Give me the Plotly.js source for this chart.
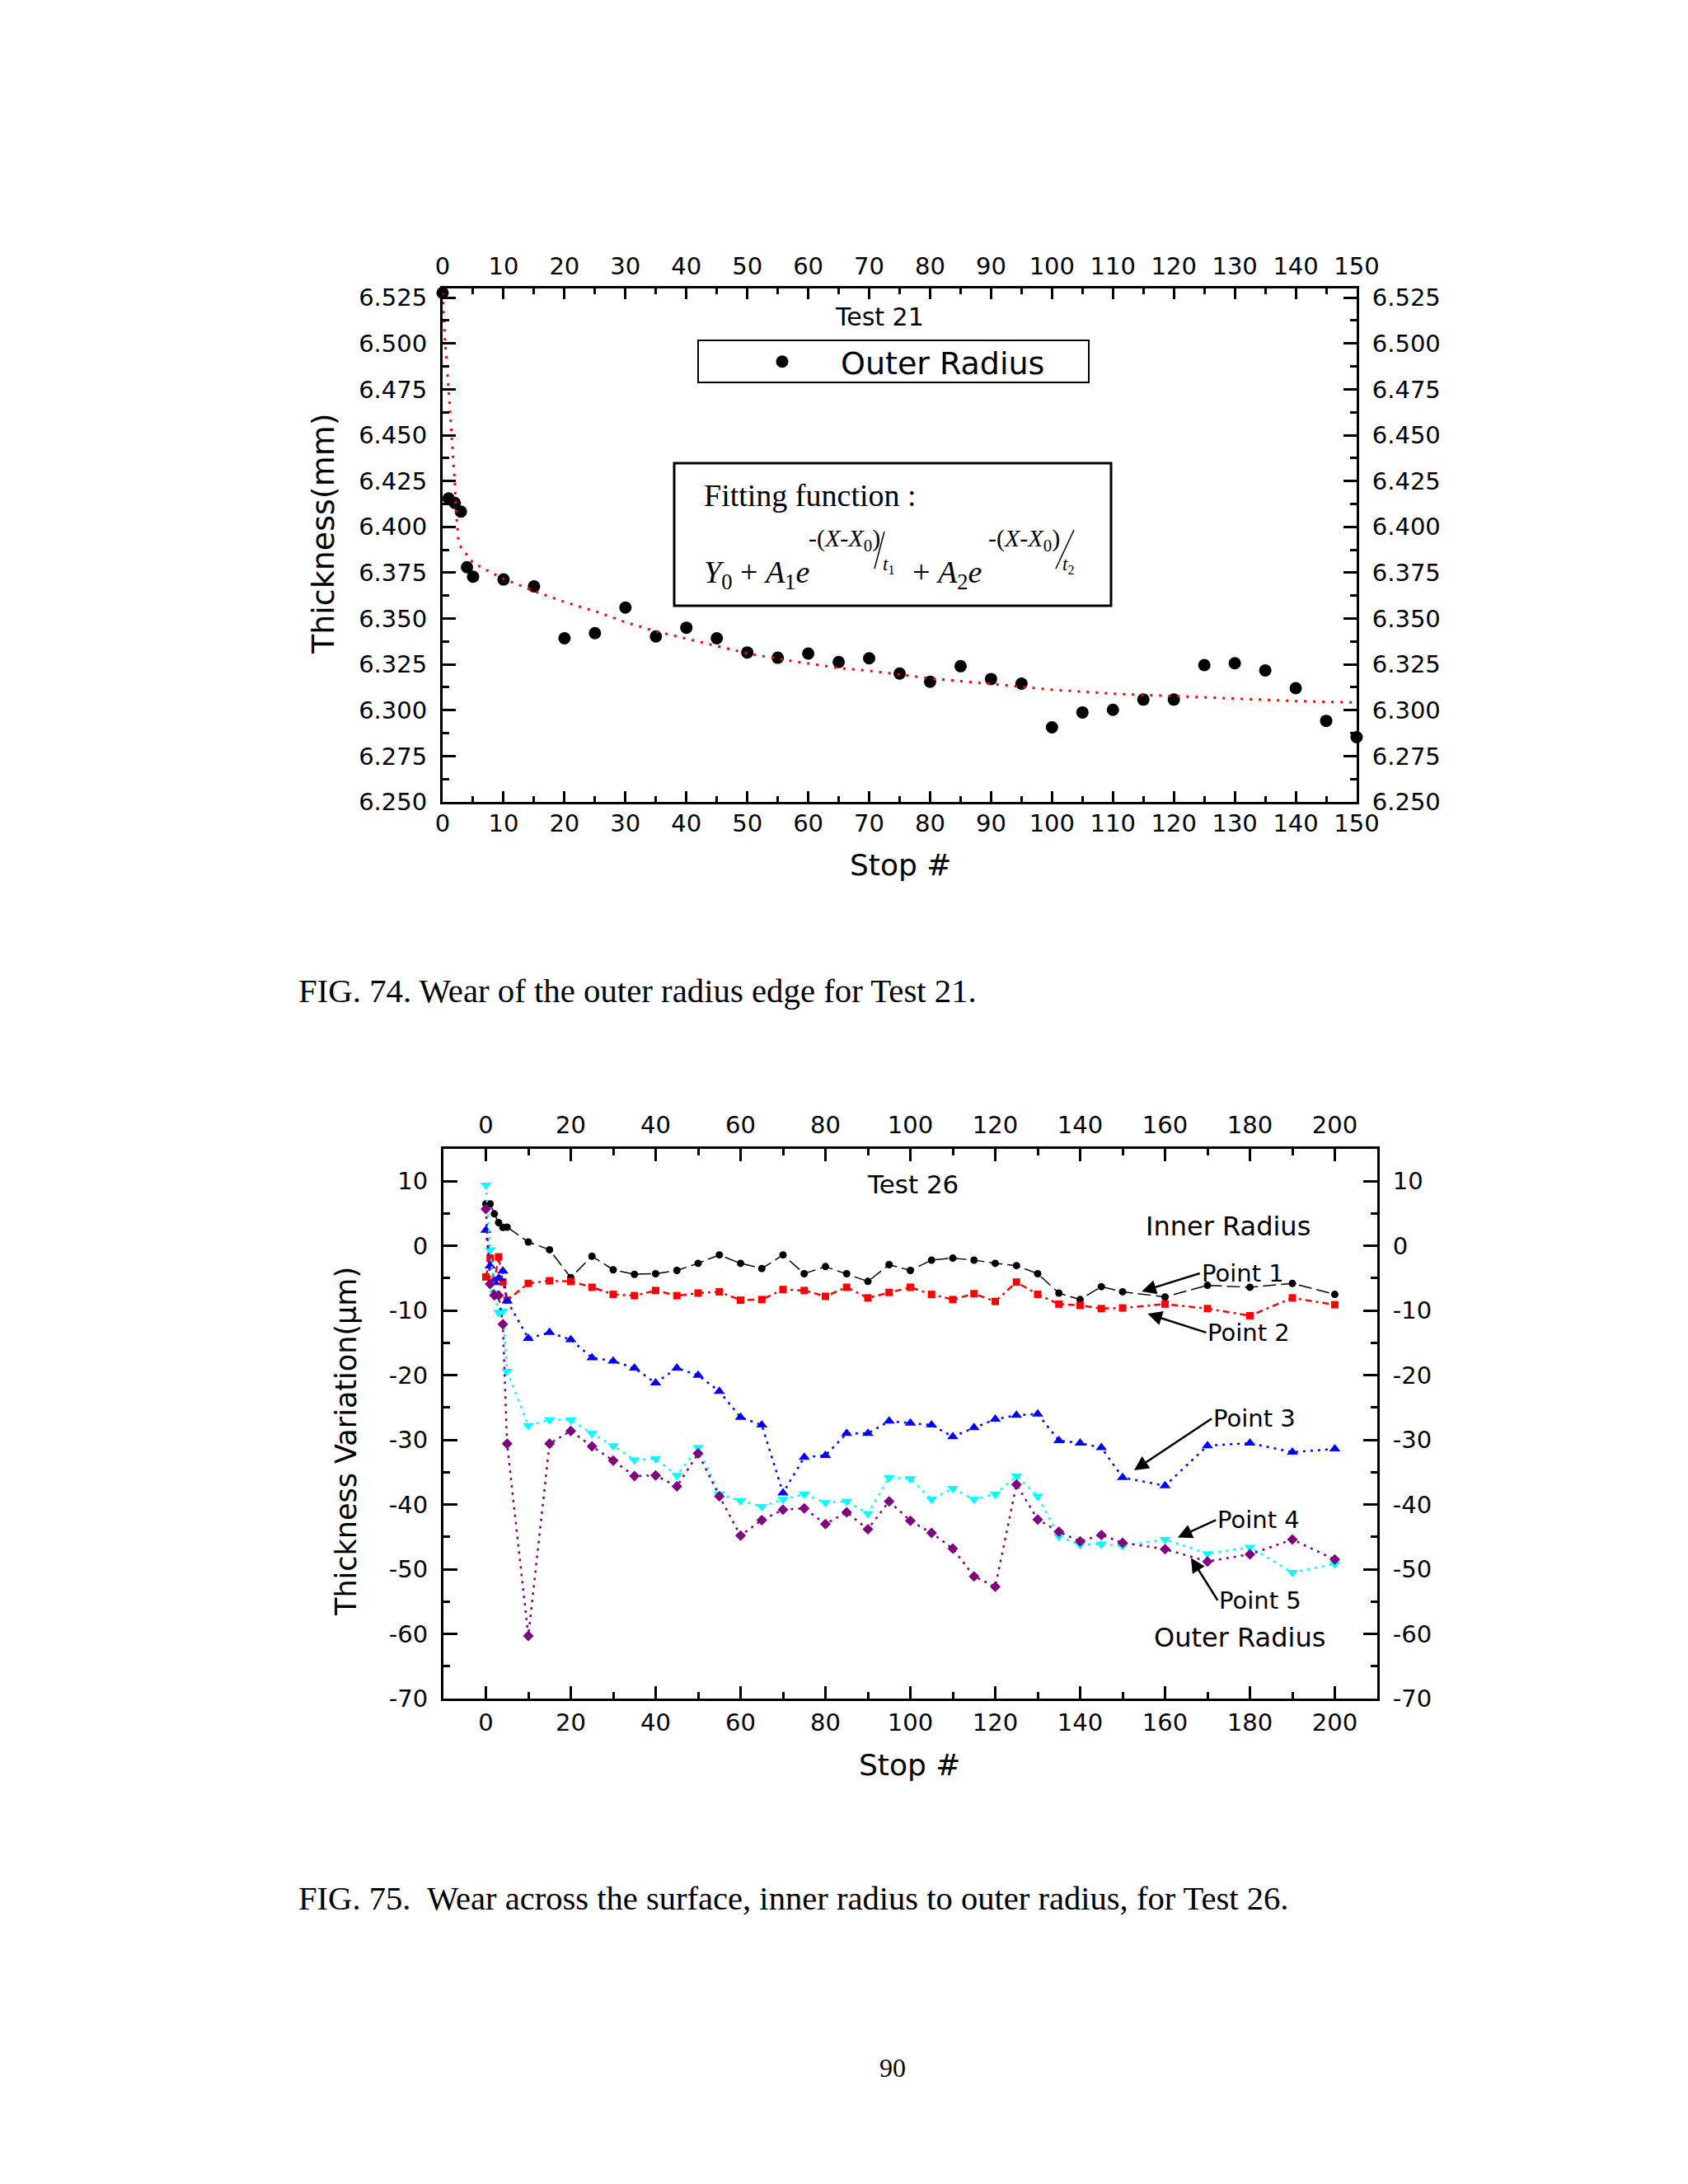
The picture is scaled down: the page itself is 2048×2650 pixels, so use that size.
<!DOCTYPE html>
<html><head><meta charset="utf-8">
<script src="https://cdn.plot.ly/plotly-3.0.1.min.js"></script>
<style>html,body{margin:0;padding:0;background:#fff;}#plot{width:2048px;height:2650px;}</style>
</head><body><div id="plot"></div>
<script>
// ---------- Test 21 (FIG. 74) ----------
const stops21 = [0,1,2,3,4,5,10,15,20,25,30,35,40,45,50,55,60,65,70,75,80,85,90,95,100,105,110,115,120,125,130,135,140,145,150];
const outerRadius21 = [6.5276,6.4155,6.4130,6.4083,6.3780,6.3728,6.3713,6.3675,6.3392,6.3420,6.3560,6.3402,6.3450,6.3392,6.3315,6.3286,6.3309,6.3263,6.3283,6.3200,6.3155,6.3240,6.3170,6.3145,6.2907,6.2988,6.3002,6.3058,6.3058,6.3246,6.3256,6.3217,6.3120,6.2942,6.2853];
const fitStops21 = [0,0.1,0.2,0.4,0.6,0.8,1.0,1.2,1.4,1.6,1.8,2.0,2.2,2.4,2.6,3,4,5,7,10,15,20,25,30,35,40,45,50,55,60,65,70,80,90,100,110,120,130,140,150];
const fitThickness21 = [6.5276,6.5198,6.5108,6.5010,6.4935,6.4840,6.4740,6.4640,6.4530,6.4410,6.4320,6.4240,6.4090,6.3990,6.3920,6.3890,6.3847,6.3803,6.3768,6.3716,6.3650,6.3590,6.3540,6.3480,6.3430,6.3390,6.3350,6.3310,6.3280,6.3256,6.3230,6.3215,6.3174,6.3143,6.3112,6.3090,6.3077,6.3064,6.3050,6.3042];

// ---------- Test 26 (FIG. 75) ----------
const stops26 = [0,1,2,3,4,5,10,15,20,25,30,35,40,45,50,55,60,65,70,75,80,85,90,95,100,105,110,115,120,125,130,135,140,145,150,160,170,180,190,200];
const point1 = [6.5,6.5,4.95,3.6,2.85,2.9,0.6,-0.6,-4.9,-1.6,-3.7,-4.4,-4.3,-3.8,-2.7,-1.4,-2.7,-3.5,-1.4,-4.3,-3.2,-4.3,-5.5,-2.9,-3.8,-2.2,-1.9,-2.2,-2.7,-3.05,-4.3,-7.3,-8.3,-6.3,-7.1,-7.9,-6.1,-6.4,-5.8,-7.5];
const point2 = [-4.8,-1.9,-5.5,-1.7,-5.6,-8.4,-5.8,-5.4,-5.5,-6.4,-7.5,-7.7,-6.9,-7.7,-7.3,-7.1,-8.4,-8.3,-6.75,-6.9,-7.8,-6.4,-8.05,-7.2,-6.4,-7.5,-8.3,-7.4,-8.6,-5.6,-7.5,-9.0,-9.2,-9.7,-9.6,-9.0,-9.7,-10.8,-8.05,-9.1];
const point3 = [2.4,-3.1,-5.6,-5.0,-3.9,-8.5,-14.3,-13.4,-14.5,-17.3,-17.8,-18.9,-21.2,-18.9,-20.0,-22.5,-26.5,-27.7,-38.2,-32.7,-32.4,-29.0,-29.0,-27.1,-27.4,-27.7,-29.5,-28.1,-26.8,-26.2,-26.0,-30.1,-30.5,-31.2,-35.8,-37.1,-30.9,-30.5,-31.9,-31.4];
const point4 = [9.4,-0.6,-7.3,-10.3,-10.1,-19.4,-27.8,-26.9,-26.9,-29.0,-30.9,-33.1,-32.9,-35.5,-31.2,-38.4,-39.4,-40.3,-39.2,-38.4,-39.7,-39.5,-41.4,-35.8,-36.0,-39.2,-37.5,-39.2,-38.4,-35.6,-38.7,-44.9,-46.2,-46.1,-46.4,-45.4,-47.6,-46.6,-50.5,-49.2];
const point5 = [5.7,-5.9,-7.65,-7.65,-12.1,-30.6,-60.3,-30.6,-28.6,-31.0,-33.2,-35.6,-35.5,-37.2,-32.1,-38.7,-44.8,-42.4,-40.8,-40.6,-43.0,-41.2,-43.8,-39.5,-42.5,-44.4,-46.8,-51.1,-52.7,-36.9,-42.3,-44.2,-45.7,-44.7,-45.9,-46.9,-48.8,-47.7,-45.4,-48.5];
const seriesNames26 = ['Point 1','Point 2','Point 3','Point 4','Point 5'];
const yTickVals26 = [-70,-60,-50,-40,-30,-20,-10,0,10];
const yTickText26 = ['-70','-60','-50','-40','-30','-20','-10','0','10'];

// ---------- page geometry helpers ----------
const W = 2048, H = 2650;
const px = v => v / W;
const py = v => 1 - v / H;
const SANS = 'DejaVu Sans';
const SERIF = 'Liberation Serif';

function axis(extra) {
  return Object.assign({
    showline: true, linecolor: '#000', linewidth: 3, mirror: false,
    ticks: 'inside', tickcolor: '#000', tickwidth: 3,
    showgrid: false, zeroline: false, fixedrange: true,
    tickfont: {family: SANS, size: 29, color: '#000'},
    ticklabelstandoff: 10
  }, extra);
}

const x1 = {domain: [px(537), px(1646)], range: [0, 150], tick0: 0, dtick: 10, ticklen: 13,
  minor: {dtick: 5, ticks: 'inside', ticklen: 7, tickwidth: 3, tickcolor: '#000'}};
const y1 = {domain: [py(973), py(350)], range: [6.25, 6.53], tick0: 6.25, dtick: 0.025, tickformat: '.3f', ticklen: 16,
  minor: {dtick: 0.0125, ticks: 'inside', ticklen: 8, tickwidth: 3, tickcolor: '#000'}};
const x3 = {domain: [px(538), px(1671)], range: [-10, 210], tick0: 0, dtick: 20, ticklen: 15,
  minor: {dtick: 10, ticks: 'inside', ticklen: 8, tickwidth: 3, tickcolor: '#000'}};
const y3 = {domain: [py(2061), py(1394)], range: [-70, 15], tickmode: 'array', tickvals: yTickVals26, ticktext: yTickText26, ticklen: 17,
  minor: {tickmode: 'linear', tick0: 0, dtick: 5, ticks: 'inside', ticklen: 8, tickwidth: 3, tickcolor: '#000'}};

const layout = {
  width: W, height: H,
  margin: {l: 0, r: 0, t: 0, b: 0, pad: 0},
  paper_bgcolor: '#fff', plot_bgcolor: 'rgba(0,0,0,0)',
  showlegend: true,
  legend: {x: px(878), xanchor: 'left', y: py(439), yanchor: 'middle',
    bgcolor: 'rgba(0,0,0,0)', borderwidth: 0, itemwidth: 132,
    font: {family: SANS, size: 38, color: '#000'}},
  xaxis: axis(Object.assign({anchor: 'y', side: 'bottom', ticklabelstandoff: -2}, x1)),
  xaxis2: axis(Object.assign({anchor: 'y2', overlaying: 'x', side: 'top', ticklabelstandoff: 2}, x1)),
  yaxis: axis(Object.assign({anchor: 'x', side: 'left'}, y1)),
  yaxis2: axis(Object.assign({anchor: 'x2', overlaying: 'y', side: 'right'}, y1)),
  xaxis3: axis(Object.assign({anchor: 'y3', side: 'bottom', ticklabelstandoff: 1}, x3)),
  xaxis4: axis(Object.assign({anchor: 'y4', overlaying: 'x3', side: 'top', ticklabelstandoff: 4}, x3)),
  yaxis3: axis(Object.assign({anchor: 'x3', side: 'left'}, y3)),
  yaxis4: axis(Object.assign({anchor: 'x4', overlaying: 'y3', side: 'right'}, y3)),
  shapes: [
    {type: 'rect', xref: 'paper', yref: 'paper', x0: px(847), x1: px(1321), y0: py(464), y1: py(413), line: {color: '#000', width: 2}},
    {type: 'rect', xref: 'paper', yref: 'paper', x0: px(818), x1: px(1348), y0: py(735), y1: py(562), line: {color: '#000', width: 3}},
    {type: 'line', xref: 'paper', yref: 'paper', x0: px(1073), y0: py(645), x1: px(1061), y1: py(690), line: {color: '#000', width: 1.5}},
    {type: 'line', xref: 'paper', yref: 'paper', x0: px(1303), y0: py(643), x1: px(1281), y1: py(690), line: {color: '#000', width: 1.5}}
  ],
  annotations: []
};

function note(text, x, y, size, opts) {
  layout.annotations.push(Object.assign({
    text: text, xref: 'paper', yref: 'paper', x: px(x), y: py(y),
    xanchor: 'center', yanchor: 'middle', showarrow: false,
    font: {family: SANS, size: size, color: '#000'}
  }, opts || {}));
}
const serif = s => ({family: SERIF, size: s, color: '#000'});

// Chart 1 texts
note('Test 21', 1067, 384, 30);
note('Thickness(mm)', 392, 648, 38, {textangle: -90});
note('Stop #', 1092, 1049, 36);
note('Fitting function :', 852, 601, 38, {xanchor: 'left', font: serif(38)});
note('<i>Y</i><sub>0</sub> + <i>A</i><sub>1</sub><i>e</i>', 852, 697, 38, {xanchor: 'left', font: serif(38)});
note('-(<i>X</i>-<i>X</i><sub>0</sub>)', 979, 655, 30, {xanchor: 'left', font: serif(30)});
note('<i>t</i><sub>1</sub>', 1069, 686, 23, {xanchor: 'left', font: serif(23)});
note('+ <i>A</i><sub>2</sub><i>e</i>', 1105, 697, 38, {xanchor: 'left', font: serif(38)});
note('-(<i>X</i>-<i>X</i><sub>0</sub>)', 1197, 655, 30, {xanchor: 'left', font: serif(30)});
note('<i>t</i><sub>2</sub>', 1287, 686, 23, {xanchor: 'left', font: serif(23)});
note('FIG. 74. Wear of the outer radius edge for Test 21.', 360, 1203, 40.8, {xanchor: 'left', font: serif(40.8)});

// Chart 2 texts
note('Test 26', 1107, 1437, 31);
note('Inner Radius', 1388, 1488, 32, {xanchor: 'left'});
note('Outer Radius', 1398, 1987, 32, {xanchor: 'left'});
note('Thickness Variation(\u03bcm)', 420, 1749, 35, {textangle: -90});
note('Stop #', 1103, 2141, 36);
note('FIG. 75.\u00a0 Wear across the surface, inner radius to outer radius, for Test 26.', 360, 2303, 40.6, {xanchor: 'left', font: serif(40.6)});
note('90', 1083, 2509, 32, {font: serif(32)});

// Point labels with arrows: [head x, head y, tail x, tail y] in Test 26 axes
const arrows = [
  [154.5, -7.05, 168.2, -4.25],
  [155.9, -10.5, 169.7, -13.4],
  [152.7, -34.7, 171.0, -26.7],
  [163.0, -45.1, 172.0, -42.4],
  [166.1, -48.25, 172.4, -54.8]
];
arrows.forEach((a, i) => layout.annotations.push({
  text: seriesNames26[i], font: {family: SANS, size: 29, color: '#000'},
  xref: 'x3', yref: 'y3', axref: 'x3', ayref: 'y3',
  x: a[0], y: a[1], ax: a[2], ay: a[3], xanchor: 'left', yanchor: 'middle',
  showarrow: true, arrowhead: 2, arrowsize: 1.4, arrowwidth: 2.5, arrowcolor: '#000', standoff: 0
}));

const traces = [
  {x: stops21, y: outerRadius21, type: 'scatter', mode: 'markers', name: 'Outer Radius',
   marker: {symbol: 'circle', size: 15, color: '#000'}, xaxis: 'x', yaxis: 'y', cliponaxis: false},
  {x: fitStops21, y: fitThickness21, type: 'scatter', mode: 'lines', name: 'fit', showlegend: false,
   line: {color: '#ff0000', width: 3, dash: '3px,8px'}, xaxis: 'x', yaxis: 'y', cliponaxis: false},
  {x: [], y: [], type: 'scatter', mode: 'markers', showlegend: false, xaxis: 'x2', yaxis: 'y2'},
  {x: stops26, y: point1, type: 'scatter', mode: 'lines+markers', name: seriesNames26[0], showlegend: false,
   line: {color: '#000', width: 1.5, dash: '16px,6px'}, marker: {symbol: 'circle', size: 9, color: '#000'},
   xaxis: 'x3', yaxis: 'y3', cliponaxis: false},
  {x: stops26, y: point2, type: 'scatter', mode: 'lines+markers', name: seriesNames26[1], showlegend: false,
   line: {color: '#ff0000', width: 2.5, dash: '8px,5px,3px,5px'}, marker: {symbol: 'square', size: 9, color: '#ff0000'},
   xaxis: 'x3', yaxis: 'y3', cliponaxis: false},
  {x: stops26, y: point3, type: 'scatter', mode: 'lines+markers', name: seriesNames26[2], showlegend: false,
   line: {color: '#0000ff', width: 2.5, dash: '3px,6px'}, marker: {symbol: 'triangle-up', size: 12, color: '#0000ff'},
   xaxis: 'x3', yaxis: 'y3', cliponaxis: false},
  {x: stops26, y: point4, type: 'scatter', mode: 'lines+markers', name: seriesNames26[3], showlegend: false,
   line: {color: '#00ffff', width: 2.5, dash: '3px,6px'}, marker: {symbol: 'triangle-down', size: 12, color: '#00ffff'},
   xaxis: 'x3', yaxis: 'y3', cliponaxis: false},
  {x: stops26, y: point5, type: 'scatter', mode: 'lines+markers', name: seriesNames26[4], showlegend: false,
   line: {color: '#800080', width: 2.5, dash: '3px,6px'}, marker: {symbol: 'diamond', size: 10, color: '#800080'},
   xaxis: 'x3', yaxis: 'y3', cliponaxis: false},
  {x: [], y: [], type: 'scatter', mode: 'markers', showlegend: false, xaxis: 'x4', yaxis: 'y4'}
];

Plotly.newPlot('plot', traces, layout, {staticPlot: true, displayModeBar: false});
</script>
</body></html>
